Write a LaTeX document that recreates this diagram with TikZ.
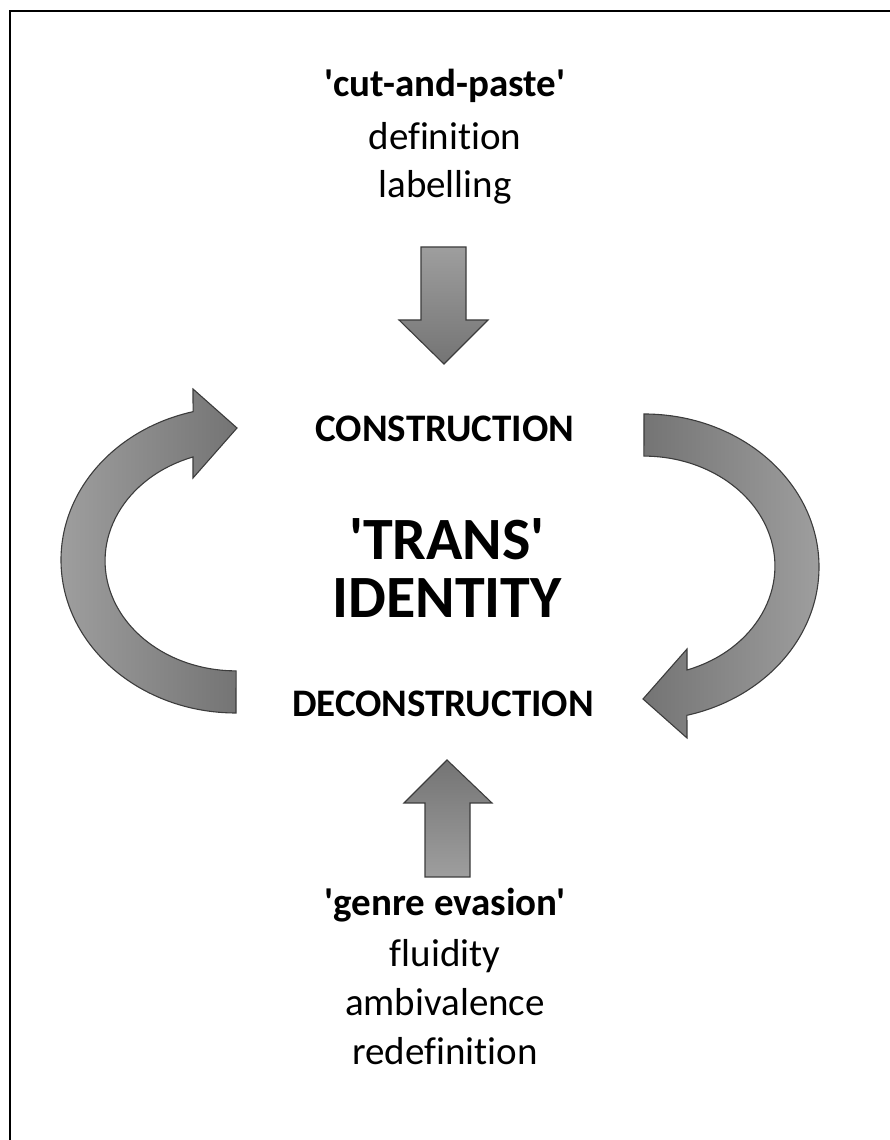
\documentclass[tikz,border=0pt]{standalone}
\usepackage{fontspec}
\setmainfont{Carlito}[Ligatures={TeXOff,NoCommon}]
\definecolor{glight}{RGB}{158,158,158}
\definecolor{gdark}{RGB}{116,116,116}
\definecolor{edge}{RGB}{60,60,60}
\begin{document}
\begin{tikzpicture}[x=1pt,y=1pt,
  txt/.style={font=\fontsize{39}{48}\selectfont, anchor=base, inner sep=0pt},
  bld/.style={font=\fontsize{39}{48}\selectfont\bfseries, anchor=base, inner sep=0pt},
  big/.style={font=\fontsize{60}{60}\selectfont\bfseries, anchor=base, inner sep=0pt},
  blk/.style={draw=edge, line width=1.1pt, line join=miter}]
\useasboundingbox (0,0) rectangle (890,1140);
\draw[line width=2.5pt] (10,0) -- (10,1129) -- (890,1129);
% texts
\node[bld] (cut) at (445,1043) {'cut-and-paste'};
\node[txt] (def) at (445,990) {definition};
\node[txt] (lab) at (445,942) {labelling};
\node[bld] (con) at (445,698) {CONSTRUCTION};
\node[big] (trans) at (447,580) {'TRANS'};
\node[big] (ident) at (447,522) {IDENTITY};
\node[bld] (decon) at (443,423) {DECONSTRUCTION};
\node[bld] (genre) at (445,224) {'genre evasion'};
\node[txt] (flu) at (445,173) {fluidity};
\node[txt] (amb) at (445,124) {ambivalence};
\node[txt] (redef) at (445,75) {redefinition};
% down arrow
\shadedraw[blk, top color=glight, bottom color=gdark]
  (421,893) -- (466,893) -- (466,820) -- (488,820) -- (444,776) -- (399,820) -- (421,820) -- cycle;
% up arrow
\shadedraw[blk, top color=gdark, bottom color=glight]
  (425,263) -- (470,263) -- (470,337) -- (492,337) -- (447,380) -- (404,337) -- (425,337) -- cycle;
% left curved arrow (centre 236,580)
\shadedraw[blk, left color=glight, right color=gdark]
  (236,427) arc[start angle=270, end angle=104.2, x radius=175, y radius=153]
  -- (193,751) -- (237,712) -- (193,662) -- (193,683)
  arc[start angle=109.2, end angle=270, x radius=131, y radius=110] -- cycle;
% right curved arrow: the left one turned through 180 degrees
\begin{scope}[rotate around={180:(440,576.5)}]
\shadedraw[blk, left color=gdark, right color=glight]
  (236,427) arc[start angle=270, end angle=104.2, x radius=175, y radius=153]
  -- (193,751) -- (237,712) -- (193,662) -- (193,683)
  arc[start angle=109.2, end angle=270, x radius=131, y radius=110] -- cycle;
\end{scope}
\end{tikzpicture}
\end{document}
